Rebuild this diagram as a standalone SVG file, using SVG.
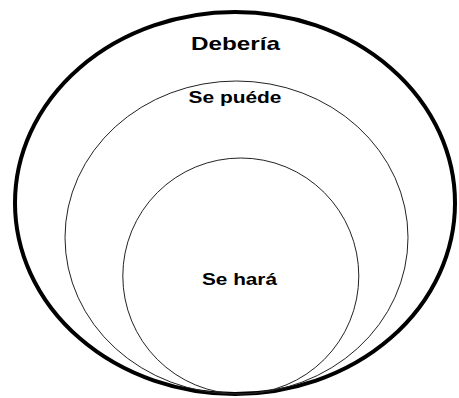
<svg xmlns="http://www.w3.org/2000/svg" width="459" height="398" viewBox="0 0 459 398">
<style>
.lbl{font-family:"Liberation Sans",Arial,sans-serif;font-weight:bold;fill:#000;text-anchor:start}
.thin{fill:none;stroke:#222;stroke-width:1}
</style>
<rect width="459" height="398" fill="#fff"/>
<g id="deberia">
<ellipse cx="235" cy="203" rx="220" ry="191" fill="none" stroke="#000" stroke-width="4"/>
<text class="lbl" x="191" y="50" font-size="19" textLength="89" lengthAdjust="spacingAndGlyphs">Debería</text>
</g>
<g id="se-puede">
<ellipse class="thin" cx="236.5" cy="237.5" rx="171.5" ry="156.5"/>
<text class="lbl" x="188.5" y="103" font-size="16.5" textLength="93" lengthAdjust="spacingAndGlyphs">Se puéde</text>
</g>
<g id="se-hara">
<ellipse class="thin" cx="240.8" cy="276" rx="118" ry="118"/>
<text class="lbl" x="202" y="284.5" font-size="16.5" textLength="75" lengthAdjust="spacingAndGlyphs">Se hará</text>
</g>
<g id="connectors"/>
</svg>
